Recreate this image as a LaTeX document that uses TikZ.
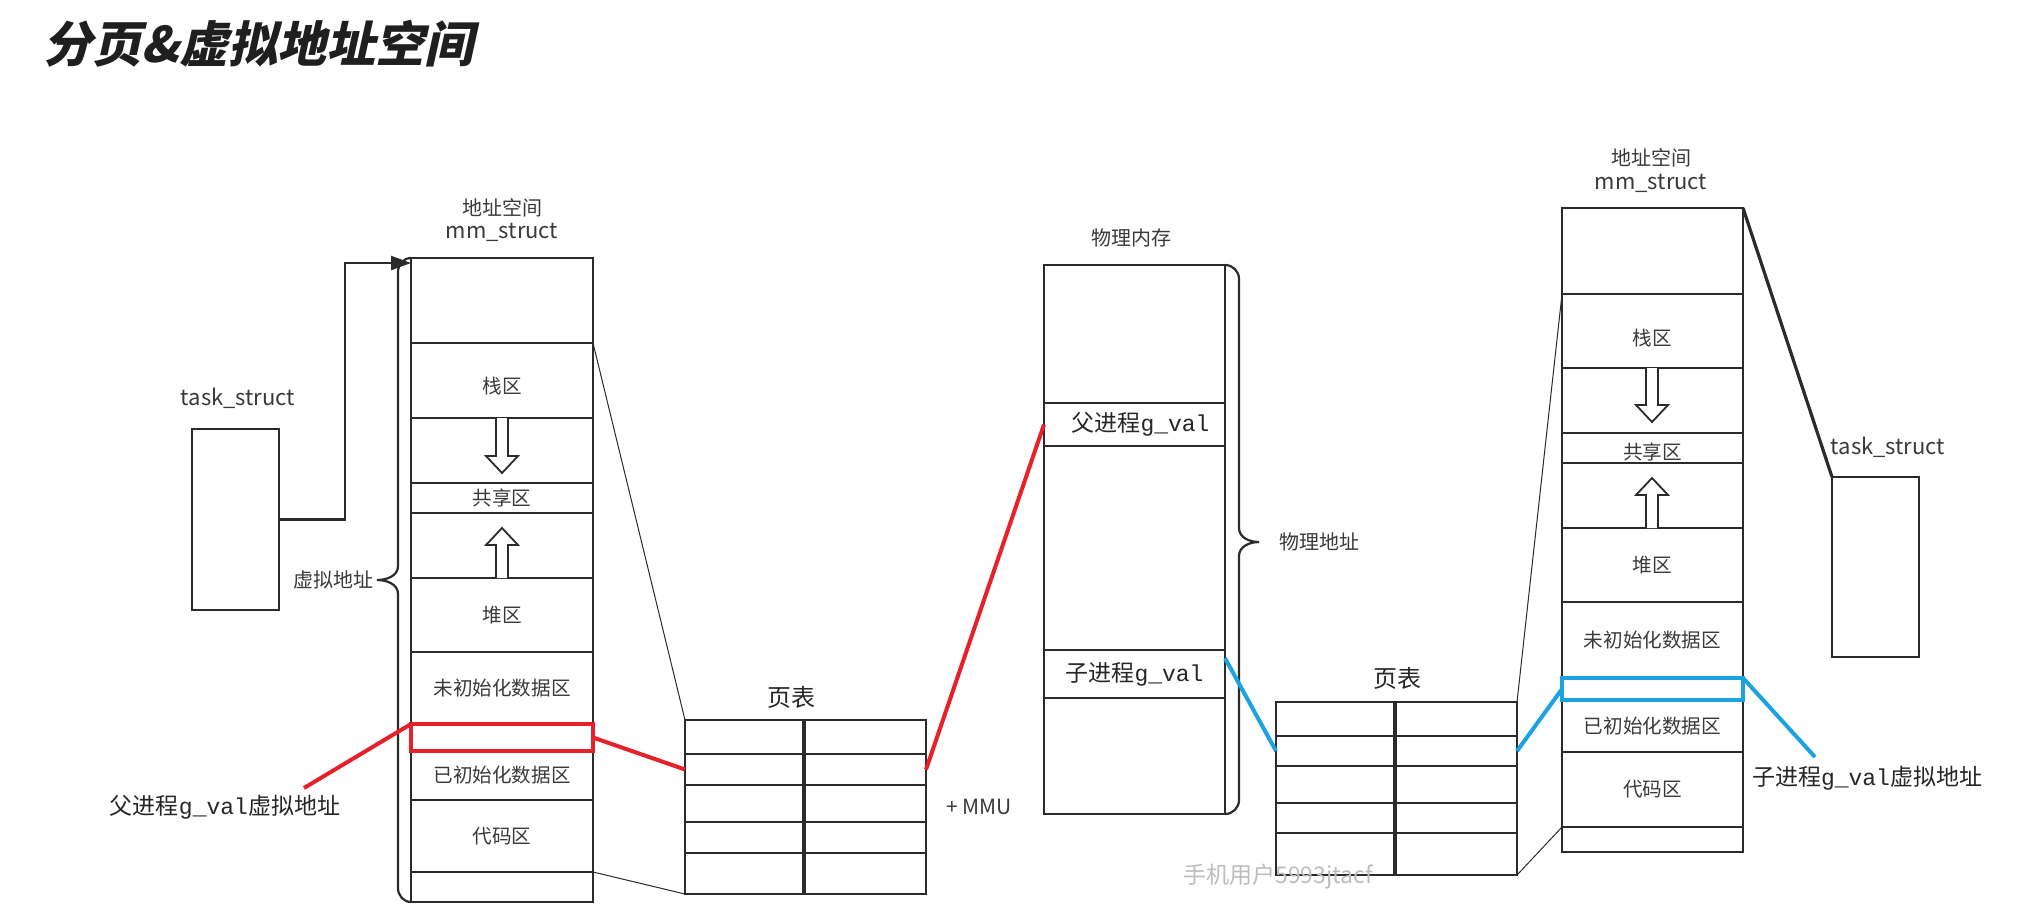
\documentclass[tikz,border=0pt]{standalone}
\usepackage{fontspec}
\setmainfont{Noto Sans CJK SC}
\newfontfamily\monofont{Liberation Mono}
\newfontfamily\titlefont[FakeSlant=0.22]{Noto Sans CJK SC}
\usetikzlibrary{fit,calc,arrows.meta}
\definecolor{ink}{HTML}{2B2B2B}
\definecolor{txt}{HTML}{3A3A3A}
\definecolor{redl}{HTML}{E8202A}
\definecolor{bluel}{HTML}{1AA3E0}
\definecolor{wm}{HTML}{BDBDBD}
\tikzset{
  cell/.style={draw=ink, line width=1.1pt, inner sep=0pt, outer sep=0pt},
  celltext/.style={inner sep=0pt, text=txt, font=\fontsize{9.8}{11}\selectfont},
  bigtext/.style={inner sep=0pt, text=black!85, font=\fontsize{11.5}{13}\selectfont},
  tcell/.style={draw=ink, line width=1.1pt, inner sep=0pt, outer sep=0pt},
  lbl/.style={inner sep=0pt, text=txt, font=\fontsize{10}{12}\selectfont},
  latin/.style={inner sep=0pt, text=txt, font=\fontsize{11}{13}\selectfont},
  big/.style={inner sep=0pt, text=black!85, font=\fontsize{11.5}{13}\selectfont},
  thinline/.style={draw=ink, line width=0.5pt},
  redline/.style={draw=redl, line width=2pt},
  blueline/.style={draw=bluel, line width=2pt},
  hollow/.style={draw=ink, line width=0.9pt, fill=white},
  bracepath/.style={draw=ink, line width=1.1pt},
}
\newcommand\gv{{\monofont g\_val}}
\newcommand\cellnode[6]{\node[cell, fit={(#2,#3) (#4,#5)}, label={[celltext]center:#6}] (#1) {};}
\newcommand\emptycell[5]{\node[cell, fit={(#2,#3) (#4,#5)}] (#1) {};}
\begin{document}
\begin{tikzpicture}[x=0.5pt, y=-0.5pt]
\useasboundingbox (0,0) rectangle (2017,918);
\fill[white] (0,0) rectangle (2017,918);

% title
\node[anchor=west, inner sep=0pt, text=black!88, font=\titlefont\bfseries\fontsize{24.5}{28}\selectfont] (title) at (43,44) {分页\&虚拟地址空间};

% ---------- left address space ----------
\node[lbl] (Lmm1) at (502,208) {地址空间};
\node[latin] (Lmm2) at (502,232) {mm\_struct};
\emptycell{L0}{411}{258}{593}{343}
\node[cell, fit={(411,343) (593,418)}, label={[celltext, yshift=-3pt]center:栈区}] (Lstack) {};
\emptycell{Ldown}{411}{418}{593}{483}
\cellnode{Lshare}{411}{483}{593}{513}{共享区}
\emptycell{Lup}{411}{513}{593}{578}
\cellnode{Lheap}{411}{578}{593}{652}{堆区}
\cellnode{Lbss}{411}{652}{593}{724}{未初始化数据区}
\cellnode{Ldata}{411}{751}{593}{800}{已初始化数据区}
\cellnode{Lcode}{411}{800}{593}{872}{代码区}
\emptycell{Lbot}{411}{872}{593}{902}
\node[fit={(411,724) (593,751)}, draw=redl, line width=2pt, inner sep=0pt, outer sep=0pt] (Lred) {};
\draw[hollow] (496,418) -- (496,456) -- (486,456) -- (502,473) -- (518,456) -- (508,456) -- (508,418);
\draw[hollow] (508,578) -- (508,545) -- (518,545) -- (502,528) -- (486,545) -- (496,545) -- (496,578);

% brace + label
\draw[bracepath] (L0.north west) to[out=180,in=90] (398,272) -- (398,566) to[out=-90,in=0] (377,580) to[out=0,in=90] (398,594) -- (398,888) to[out=-90,in=180] (Lbot.south west);
\node[lbl, anchor=east] (Vaddr) at (374,580) {虚拟地址};

% left task_struct
\node[latin] (Ltlbl) at (238,398) {task\_struct};
\node[tcell, fit={(192,429) (279,610)}] (Ltask) {};
\coordinate (Lbend) at (345,263);
\draw[ink, line width=1.1pt, -{Triangle[length=10pt,width=7pt]}] (Ltask.east) -| (Lbend) -- ([yshift=-2.5pt]L0.north west);

% parent label
\node[big] (Lptxt) at (225,807) {父进程\gv 虚拟地址};
\coordinate (Lpend) at (304,788);

% ---------- left page table ----------
\node[inner sep=0pt, text=black!85, font=\fontsize{12}{14}\selectfont] (PT1) at (791,697) {页表};
\foreach \r/\ya/\yb in {1/720/754, 2/754/785, 3/785/822, 4/822/853, 5/853/894} {
  \node[tcell, fit={(685,\ya) (804,\yb)}] (TL\r) {};
  \node[tcell, fit={(804,\ya) (926,\yb)}] (TR\r) {};
}
\draw[ink, line width=1.8pt] (TL1.north east) -- (TL5.south east);
\node[inner sep=0pt, text=txt, font=\fontsize{10.5}{12}\selectfont, anchor=west] (MMU) at (946,807) {+ MMU};

% ---------- physical memory ----------
\node[lbl] (Pttl) at (1131,238) {物理内存};
\emptycell{P0}{1044}{265}{1225}{403}
\node[cell, fit={(1044,403) (1225,446)}, label={[bigtext, xshift=3pt]center:父进程\gv}] (Ppar) {};
\emptycell{Pmid}{1044}{446}{1225}{650}
\node[cell, fit={(1044,650) (1225,698)}, label={[bigtext]center:子进程\gv}] (Pchild) {};
\emptycell{Pbot}{1044}{698}{1225}{814}
\draw[bracepath] (P0.north east) to[out=0,in=90] (1239,279) -- (1239,528) to[out=-90,in=180] (1259,542) to[out=180,in=90] (1239,556) -- (1239,800) to[out=-90,in=0] (Pbot.south east);
\node[lbl, anchor=west] (Paddr) at (1279,542) {物理地址};

% ---------- right page table ----------
\node[inner sep=0pt, text=black!85, font=\fontsize{12}{14}\selectfont] (PT2) at (1397,678) {页表};
\foreach \r/\ya/\yb in {1/702/736, 2/736/766, 3/766/803, 4/803/833, 5/833/875} {
  \node[tcell, fit={(1276,\ya) (1395,\yb)}] (UL\r) {};
  \node[tcell, fit={(1395,\ya) (1517,\yb)}] (UR\r) {};
}
\draw[ink, line width=1.8pt] (UL1.north east) -- (UL5.south east);

% ---------- right address space ----------
\node[lbl] (Rmm1) at (1651,158) {地址空间};
\node[latin] (Rmm2) at (1651,183) {mm\_struct};
\emptycell{R0}{1562}{208}{1743}{294}
\node[cell, fit={(1562,294) (1743,368)}, label={[celltext, yshift=-3.5pt]center:栈区}] (Rstack) {};
\emptycell{Rdown}{1562}{368}{1743}{433}
\node[cell, fit={(1562,433) (1743,463)}, label={[celltext, yshift=-2pt]center:共享区}] (Rshare) {};
\emptycell{Rup}{1562}{463}{1743}{528}
\cellnode{Rheap}{1562}{528}{1743}{602}{堆区}
\cellnode{Rbss}{1562}{602}{1743}{678}{未初始化数据区}
\cellnode{Rdata}{1562}{700}{1743}{752}{已初始化数据区}
\cellnode{Rcode}{1562}{752}{1743}{827}{代码区}
\emptycell{Rbot}{1562}{827}{1743}{852}
\node[fit={(1562,678) (1743,700)}, draw=bluel, line width=2pt, inner sep=0pt, outer sep=0pt] (Rblue) {};
\draw[hollow] (1646,368) -- (1646,405) -- (1636,405) -- (1652,422) -- (1668,405) -- (1658,405) -- (1658,368);
\draw[hollow] (1658,528) -- (1658,495) -- (1668,495) -- (1652,478) -- (1636,495) -- (1646,495) -- (1646,528);

% right task_struct
\node[latin] (Rtlbl) at (1888,447) {task\_struct};
\node[tcell, fit={(1832,477) (1919,657)}] (Rtask) {};

% child label
\node[big] (Rptxt) at (1867,778) {子进程\gv 虚拟地址};
\coordinate (Rpend) at (1815,757);

% watermark text
\node[inner sep=0pt, text=wm, font=\fontsize{11.5}{13}\selectfont, anchor=west] (wmk) at (1183,877) {手机用户5993jtacf};

% ---------- connectors ----------
\draw[thinline] (Lstack.north east) -- (TL1.north west);
\draw[thinline] (Lbot.north east) -- (TL5.south west);
\draw[redline] (Lpend) -- (Lred.north west);
\draw[redline] (Lred.east) -- (TL2.west);
\draw[redline] (TR2.east) -- (Ppar.west);
\draw[blueline] ($(Pchild.north east)!0.17!(Pchild.south east)$) -- (UL2.west);
\draw[blueline] (UR2.east) -- (Rblue.west);
\draw[blueline] (Rblue.north east) -- (Rpend);
\draw[thinline] (Rstack.north west) -- (UR1.north east);
\draw[thinline] (Rbot.north west) -- (UR5.south east);
\draw[ink, line width=1.6pt] (R0.north east) -- (Rtask.north west);
\end{tikzpicture}
\end{document}
